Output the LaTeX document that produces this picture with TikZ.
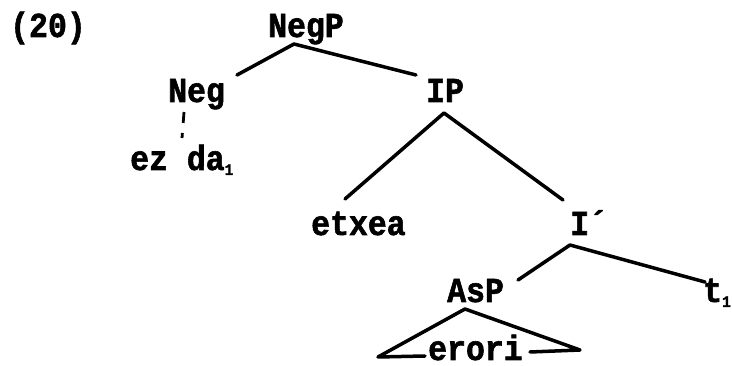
\documentclass[tikz,border=0pt]{standalone}
\usepackage{fontspec}
\newfontfamily\tw[FakeStretch=0.9,FakeBold=1.6]{Liberation Mono}
\usetikzlibrary{calc}
\newcommand{\subone}{\raisebox{-5pt}{\fontsize{16}{16}\selectfont 1}}
\tikzset{
  lbl/.style={anchor=base west, inner sep=0pt, font=\tw\bfseries\fontsize{35}{40}\selectfont},
  branch/.style={line width=3.5pt, line cap=round, line join=round},
  dotbranch/.style={line width=2.8pt, dash pattern=on 11pt off 10pt}
}
\begin{document}
\begin{tikzpicture}[x=1pt,y=-1pt]
\useasboundingbox (0,0) rectangle (732,366);
\node[lbl] (ex) at (10,37) {(20)};
\node[lbl] (negp) at (268,37) {NegP};
\node[lbl] (neg) at (168,102) {Neg};
\node[lbl] (ezda) at (130,170) {ez da\subone};
\node[lbl] (ip) at (426,102) {IP};
\node[lbl] (etxea) at (311,235) {etxea};
\node[lbl] (ibar) at (570,235) {I´};
\node[lbl] (asp) at (447,302) {AsP};
\node[lbl] (t) at (703,302) {t\subone};
\node[lbl] (erori) at (428,360) {erori};

\draw[branch] ($(neg.base west)+(69,-27)$) -- ($(negp.base west)+(26,7)$) -- ($(ip.base west)+(-10,-27)$);
\draw[dotbranch] ($(neg.base west)+(16,10)$) -- ($(neg.base west)+(14,36)$);
\draw[branch] ($(etxea.base west)+(34,-36)$) -- ($(ip.base west)+(18,11)$) -- ($(ibar.base west)+(-7,-35)$);
\draw[branch] ($(asp.base west)+(71,-22)$) -- ($(ibar.base west)+(0,10)$) -- ($(t.base west)+(2,-20)$);
\draw[branch] ($(erori.base west)+(-3,-4)$) -- ($(erori.base west)+(-50,-3)$) -- ($(asp.base west)+(18,7)$) -- ($(erori.base west)+(152,-10)$) -- ($(erori.base west)+(102,-8)$);
\end{tikzpicture}
\end{document}
